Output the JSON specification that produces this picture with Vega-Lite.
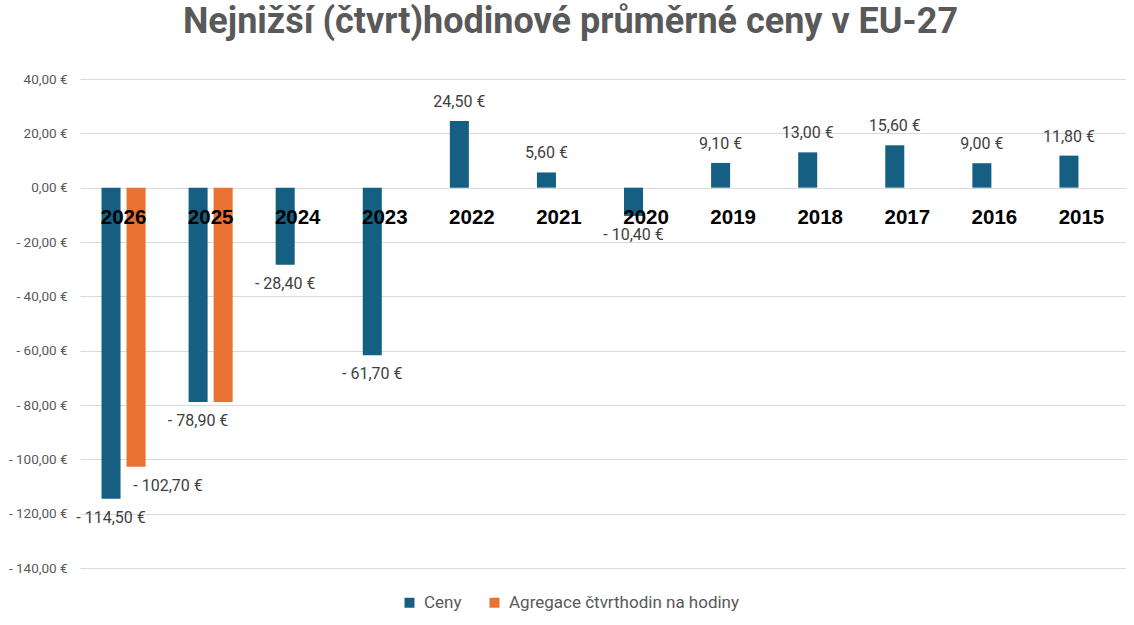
{
  "$schema": "https://vega.github.io/schema/vega-lite/v6.json",
  "autosize": {"type": "none"},
  "width": 1045,
  "height": 489,
  "padding": {"left": 80, "top": 79, "right": 9, "bottom": 57},
  "background": "white",
  "title": {
    "text": "Nejnižší (čtvrt)hodinové průměrné ceny v EU-27",
    "font": "Roboto",
    "fontWeight": "bold",
    "fontSize": 36,
    "color": "#595959",
    "anchor": "middle",
    "baseline": "alphabetic",
    "dx": -32,
    "offset": 3
  },
  "datasets": {
    "prices": [
      {"year": "2026", "series": "Ceny", "price": -114.5},
      {"year": "2026", "series": "Agregace čtvrthodin na hodiny", "price": -102.7},
      {"year": "2025", "series": "Ceny", "price": -78.9},
      {"year": "2025", "series": "Agregace čtvrthodin na hodiny", "price": -78.9},
      {"year": "2024", "series": "Ceny", "price": -28.4},
      {"year": "2023", "series": "Ceny", "price": -61.7},
      {"year": "2022", "series": "Ceny", "price": 24.5},
      {"year": "2021", "series": "Ceny", "price": 5.6},
      {"year": "2020", "series": "Ceny", "price": -10.4},
      {"year": "2019", "series": "Ceny", "price": 9.1},
      {"year": "2018", "series": "Ceny", "price": 13.0},
      {"year": "2017", "series": "Ceny", "price": 15.6},
      {"year": "2016", "series": "Ceny", "price": 9.0},
      {"year": "2015", "series": "Ceny", "price": 11.8}
    ]
  },
  "data": {"name": "prices"},
  "encoding": {
    "x": {
      "field": "year",
      "type": "nominal",
      "sort": ["2026", "2025", "2024", "2023", "2022", "2021", "2020", "2019", "2018", "2017", "2016", "2015"],
      "scale": {"paddingInner": 0.494, "paddingOuter": 0.247},
      "axis": null
    },
    "y": {
      "field": "price",
      "type": "quantitative",
      "scale": {"domain": [-140, 40], "nice": false, "zero": false},
      "axis": {
        "title": null,
        "values": [-140, -120, -100, -80, -60, -40, -20, 0, 20, 40],
        "format": "$.2f",
        "domain": false,
        "ticks": false,
        "labelPadding": 13,
        "labelFont": "Roboto",
        "labelFontSize": 13.5,
        "labelColor": "#595959",
        "gridColor": "#d9d9d9",
        "gridWidth": 1
      }
    }
  },
  "layer": [
    {
      "mark": {"type": "bar"},
      "encoding": {
        "xOffset": {
          "field": "series",
          "sort": ["Ceny", "Agregace čtvrthodin na hodiny"],
          "scale": {"paddingInner": 0.24, "paddingOuter": 0}
        },
        "color": {
          "field": "series",
          "type": "nominal",
          "scale": {
            "domain": ["Ceny", "Agregace čtvrthodin na hodiny"],
            "range": ["#156082", "#E97132"]
          },
          "legend": {
            "title": null,
            "orient": "none",
            "direction": "horizontal",
            "legendX": 321,
            "legendY": 515,
            "symbolType": "square",
            "symbolSize": 100,
            "symbolStrokeWidth": 0,
            "labelFont": "Roboto",
            "labelFontSize": 17,
            "labelColor": "#595959",
            "labelOffset": 6,
            "labelLimit": 500,
            "columnPadding": 24
          }
        }
      }
    },
    {
      "transform": [{"filter": "datum.series == 'Ceny' && datum.price > 0"}],
      "mark": {"type": "text", "baseline": "middle", "dy": -19, "font": "Roboto", "fontSize": 16, "color": "#404040"},
      "encoding": {
        "xOffset": {"field": "series", "sort": ["Ceny", "Agregace čtvrthodin na hodiny"]},
        "text": {"field": "price", "type": "quantitative", "format": "$.2f"}
      }
    },
    {
      "transform": [{"filter": "datum.series == 'Ceny' && datum.price < 0"}],
      "mark": {"type": "text", "baseline": "middle", "dy": 19, "font": "Roboto", "fontSize": 16, "color": "#404040"},
      "encoding": {
        "xOffset": {"field": "series", "sort": ["Ceny", "Agregace čtvrthodin na hodiny"]},
        "text": {"field": "price", "type": "quantitative", "format": "$.2f"}
      }
    },
    {
      "transform": [{"filter": "datum.series != 'Ceny' && datum.year == '2026'"}],
      "mark": {"type": "text", "baseline": "middle", "dx": 32, "dy": 19, "font": "Roboto", "fontSize": 16, "color": "#404040"},
      "encoding": {
        "xOffset": {"field": "series", "sort": ["Ceny", "Agregace čtvrthodin na hodiny"]},
        "text": {"field": "price", "type": "quantitative", "format": "$.2f"}
      }
    },
    {
      "transform": [{"filter": "datum.series == 'Ceny'"}],
      "mark": {"type": "text", "baseline": "middle", "dy": 30, "font": "Liberation Sans", "fontWeight": "bold", "fontSize": 20.5, "color": "black"},
      "encoding": {
        "y": {"datum": 0},
        "text": {"field": "year", "type": "nominal"}
      }
    }
  ],
  "config": {
    "view": {"stroke": null},
    "locale": {
      "number": {
        "decimal": ",",
        "thousands": " ",
        "grouping": [3],
        "currency": ["", " €"],
        "minus": "- "
      }
    }
  }
}
